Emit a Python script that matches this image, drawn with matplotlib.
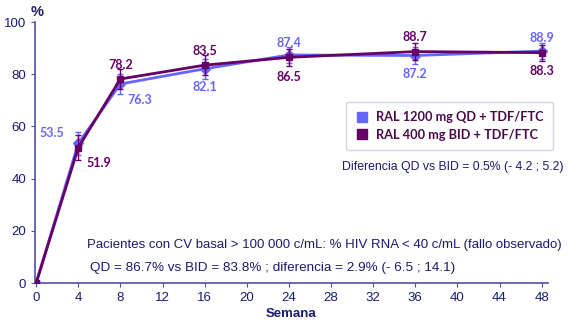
import matplotlib.pyplot as plt
from matplotlib.lines import Line2D

plt.rcParams['font.family'] = ['Liberation Sans', 'DejaVu Sans']

# Semanas y porcentaje con HIV RNA < 40 c/mL
semanas = [0, 4, 8, 16, 24, 36, 48]
qd = [0, 53.5, 76.3, 82.1, 87.4, 87.2, 88.9]
bid = [0, 51.9, 78.2, 83.5, 86.5, 88.7, 88.3]
qd_err = [0, 4.5, 4.0, 3.8, 3.2, 3.3, 3.0]
bid_err = [0, 4.7, 4.0, 3.8, 3.3, 3.2, 3.1]
xticks = list(range(0, 49, 4))
yticks = [0, 20, 40, 60, 80, 100]

c_qd = '#6666ff'
c_bid = '#660066'
c_axis = '#5050a0'
c_txt = '#1a1a6e'
lab_font = ['Lato', 'DejaVu Sans']

fig = plt.figure(figsize=(5.75, 3.25), dpi=100)
ax = fig.add_axes([0.061, 0.129, 0.892, 0.803])

ax.errorbar(semanas, qd, yerr=qd_err, color=c_qd, marker='D', markersize=5,
            lw=2, capsize=2, elinewidth=1, zorder=3)
ax.errorbar(semanas, bid, yerr=bid_err, color=c_bid, marker='s', markersize=5,
            lw=2, capsize=2, elinewidth=1, zorder=4)

# etiquetas de valores
qd_off = [None, (-2.5, 4), (1.8, -6), (0, -7), (0, 4.5), (0, -7), (0, 5)]
bid_off = [None, (2.0, -6), (0, 5.5), (0, 5.5), (0, -7.5), (0, 5.5), (0, -7)]
for x, y, off in zip(semanas, qd, qd_off):
    if off:
        ax.text(x + off[0], y + off[1], f'{y:.1f}', color=c_qd, fontsize=9,
                fontweight='bold', ha='center', va='center', family=lab_font)
for x, y, off in zip(semanas, bid, bid_off):
    if off:
        ax.text(x + off[0], y + off[1], f'{y:.1f}', color=c_bid, fontsize=9,
                fontweight='bold', ha='center', va='center', family=lab_font)

ax.set_xlim(-0.1, 48.6)
ax.set_ylim(0, 100)
ax.set_xticks(xticks)
ax.set_yticks(yticks)
ax.tick_params(colors=c_axis, labelcolor=c_txt, labelsize=9.5, length=3)
for s in ['top', 'right']:
    ax.spines[s].set_visible(False)
for s in ['left', 'bottom']:
    ax.spines[s].set_color(c_axis)
    ax.spines[s].set_linewidth(1.2)

ax.set_xlabel('Semana', fontsize=9.5, fontweight='bold', color=c_txt, labelpad=3)
fig.text(0.064, 0.962, '%', fontsize=10.5, fontweight='bold', color=c_txt,
         ha='center', va='center')

handles = [Line2D([], [], marker='s', ls='', color=c_qd, markersize=7),
           Line2D([], [], marker='s', ls='', color=c_bid, markersize=7)]
leg = ax.legend(handles, ['RAL 1200 mg QD + TDF/FTC', 'RAL 400 mg BID + TDF/FTC'],
                loc='upper left', bbox_to_anchor=(0.593, 0.72), fancybox=True,
                frameon=True, handletextpad=0.6, handlelength=1.0,
                prop={'weight': 'bold', 'size': 9.2, 'family': lab_font},
                borderpad=0.75, labelspacing=0.45)
leg.get_frame().set_edgecolor('#c8c8e0')
for t in leg.get_texts():
    t.set_color('#4a0a4a')

fig.text(0.595, 0.486, 'Diferencia QD vs BID = 0.5% (- 4.2 ; 5.2)',
         fontsize=8.8, color=c_txt, va='center')
fig.text(0.152, 0.247, 'Pacientes con CV basal > 100 000 c/mL: % HIV RNA < 40 c/mL (fallo observado)',
         fontsize=9.5, color=c_txt, va='center')
fig.text(0.157, 0.175, 'QD = 86.7% vs BID = 83.8% ; diferencia = 2.9% (- 6.5 ; 14.1)',
         fontsize=9.7, color=c_txt, va='center')

fig.savefig('out.png', dpi=100)
